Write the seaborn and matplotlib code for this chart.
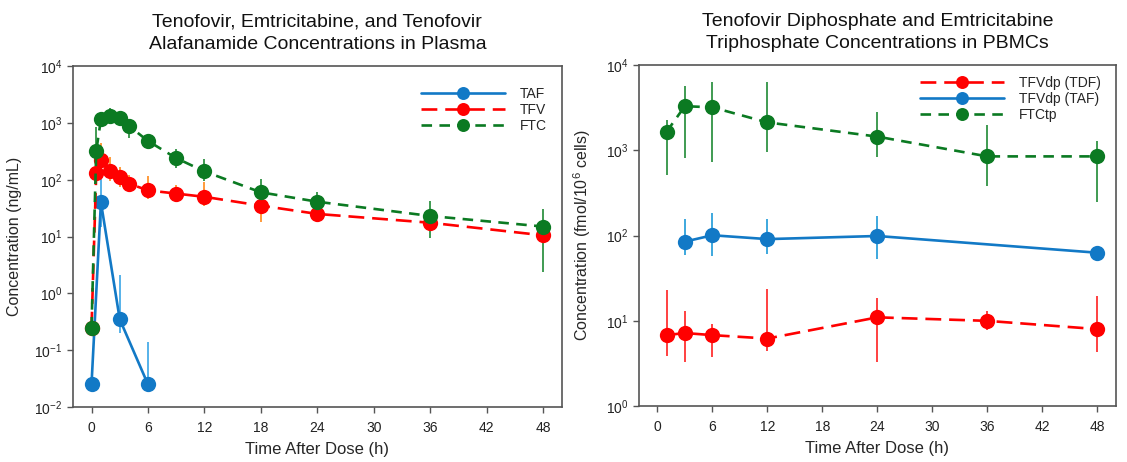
import numpy as np
import pandas as pd
import matplotlib
matplotlib.use("Agg")
import matplotlib.pyplot as plt
import seaborn as sns
from matplotlib.ticker import LogLocator, LogFormatterSciNotation, NullLocator

# ---- plasma data (left panel) ----
taf_time = [0, 1, 3, 6]
taf_conc = [0.025, 40, 0.35, 0.025]
taf_hi = [0.025, 215, 2.1, 0.14]
taf_lo = [0.025, 15, 0.2, 0.025]

tfv_time = [0, 0.5, 1, 2, 3, 4, 6, 9, 12, 18, 24, 36, 48]
tfv_conc = [0.25, 130, 220, 140, 110, 85, 65, 57, 50, 35, 25, 17.5, 10.5]
tfv_hi = [0.25, 200, 450, 250, 165, 120, 115, 80, 90, 55, 30, 22, 13]
tfv_lo = [0.25, 90, 150, 95, 75, 65, 45, 40, 35, 18, 20, 13, 8]

ftc_time = [0, 0.5, 1, 2, 3, 4, 6, 9, 12, 18, 24, 36, 48]
ftc_conc = [0.25, 320, 1150, 1300, 1200, 880, 480, 240, 140, 60, 41, 23, 15]
ftc_hi = [0.25, 830, 1500, 1850, 1500, 1100, 650, 345, 230, 103, 60, 42, 31]
ftc_lo = [0.25, 200, 850, 1000, 900, 550, 380, 160, 95, 40, 30, 9.3, 2.4]

# ---- PBMC data (right panel) ----
tdf_dp_time = [1, 3, 6, 12, 24, 36, 48]
tdf_dp_conc = [6.8, 7.2, 6.8, 6.2, 11, 10, 8.0]
tdf_dp_hi = [23, 13, 9.3, 23.4, 18.7, 13, 19.7]
tdf_dp_lo = [3.9, 3.3, 3.8, 4.4, 3.3, 7.8, 4.3]

taf_dp_time = [3, 6, 12, 24, 48]
taf_dp_conc = [85, 101, 91, 99, 63]
taf_dp_hi = [156, 182, 156, 170, 63]
taf_dp_lo = [60, 58, 61, 53, 63]

ftctp_time = [1, 3, 6, 12, 24, 36, 48]
ftctp_conc = [1650, 3300, 3200, 2130, 1450, 850, 850]
ftctp_hi = [2250, 5700, 6300, 6300, 2800, 2000, 1290]
ftctp_lo = [510, 820, 735, 960, 830, 380, 250]

BLUE = "#1279c6"
RED = "#ff0000"
GREEN = "#0b7a22"

sns.set_style("ticks")
plt.rcParams["font.family"] = ["Liberation Sans", "DejaVu Sans"]
plt.rcParams["mathtext.fontset"] = "custom"
plt.rcParams["mathtext.rm"] = "Liberation Sans"
plt.rcParams["mathtext.it"] = "Liberation Sans:italic"
plt.rcParams["mathtext.default"] = "regular"


def make_frame(series):
    rows = []
    for name, t, c in series:
        for ti, ci in zip(t, c):
            rows.append({"time": ti, "conc": ci, "analyte": name})
    return pd.DataFrame(rows)


def draw_panel(ax, series, errs, palette, dashes, order, title, ylabel, legend_y):
    # error bars first so the markers sit on top
    for t, lo, hi, col in errs:
        ax.vlines(t, lo, hi, color=col, linewidth=1.2, zorder=1)
    df = make_frame(series)
    sns.lineplot(data=df, x="time", y="conc", hue="analyte", style="analyte",
                 hue_order=order, style_order=order, palette=palette,
                 dashes=dashes, markers={k: "o" for k in order},
                 markersize=11, markeredgewidth=0, linewidth=1.9,
                 estimator=None, errorbar=None, sort=False, ax=ax, zorder=3)
    ax.set_yscale("log")
    ax.set_xlim(-2, 50)
    ax.set_xticks(range(0, 49, 6))
    ax.yaxis.set_major_locator(LogLocator(base=10, numticks=10))
    ax.yaxis.set_major_formatter(LogFormatterSciNotation())
    ax.yaxis.set_minor_locator(NullLocator())
    ax.set_title(title, fontsize=14, pad=12, color="#111111", linespacing=1.45)
    ax.set_xlabel("Time After Dose (h)", fontsize=12, labelpad=5)
    ax.set_ylabel(ylabel, fontsize=11.5, labelpad=9)
    ax.tick_params(direction="out", length=4, width=1, color="#555555",
                   labelsize=10, pad=6, labelcolor="#222222")
    ax.tick_params(axis="y", pad=3.5)
    for sp in ax.spines.values():
        sp.set_color("#555555")
        sp.set_linewidth(1.2)
    sns.move_legend(ax, "upper right", bbox_to_anchor=(0.995, legend_y), frameon=False,
                    title=None, handlelength=6, fontsize=10, labelspacing=0.15,
                    handletextpad=1.1, markerscale=0.85)


fig = plt.figure(figsize=(11.27, 4.62), dpi=100)
ax1 = fig.add_axes([0.0645, 0.119, 0.4342, 0.738])
ax2 = fig.add_axes([0.567, 0.121, 0.423, 0.738])

draw_panel(
    ax1,
    [("TAF", taf_time, taf_conc), ("TFV", tfv_time, tfv_conc), ("FTC", ftc_time, ftc_conc)],
    [(taf_time, taf_lo, taf_hi, "#3aa6e6"),
     (tfv_time, tfv_lo, tfv_hi, "#ff8a1a"),
     (ftc_time, ftc_lo, ftc_hi, "#1f8a35")],
    {"TAF": BLUE, "TFV": RED, "FTC": GREEN},
    {"TAF": "", "TFV": (6, 3), "FTC": (4, 2.8)},
    ["TAF", "TFV", "FTC"],
    "Tenofovir, Emtricitabine, and Tenofovir\nAlafanamide Concentrations in Plasma",
    "Concentration (ng/mL)",
    0.975,
)
ax1.set_ylim(1e-2, 1e4)

draw_panel(
    ax2,
    [("TFVdp (TDF)", tdf_dp_time, tdf_dp_conc), ("TFVdp (TAF)", taf_dp_time, taf_dp_conc),
     ("FTCtp", ftctp_time, ftctp_conc)],
    [(tdf_dp_time, tdf_dp_lo, tdf_dp_hi, "#ff2020"),
     (taf_dp_time, taf_dp_lo, taf_dp_hi, "#1d9ad8"),
     (ftctp_time, ftctp_lo, ftctp_hi, "#1f8a35")],
    {"TFVdp (TDF)": RED, "TFVdp (TAF)": BLUE, "FTCtp": GREEN},
    {"TFVdp (TDF)": (6, 3), "TFVdp (TAF)": "", "FTCtp": (4, 2.8)},
    ["TFVdp (TDF)", "TFVdp (TAF)", "FTCtp"],
    "Tenofovir Diphosphate and Emtricitabine\nTriphosphate Concentrations in PBMCs",
    "Concentration (fmol/10$^6$ cells)",
    1.005,
)
ax2.set_ylim(1, 1e4)

fig.savefig("out.png", dpi=100)
